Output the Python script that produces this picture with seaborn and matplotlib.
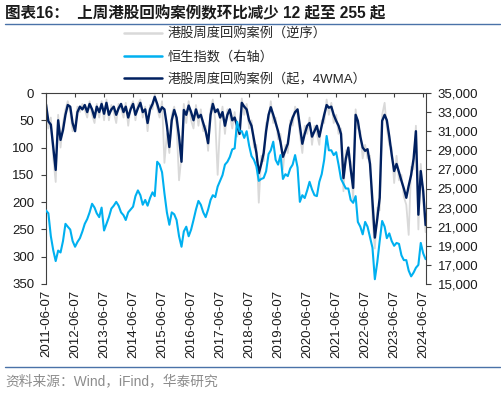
import numpy as np
import pandas as pd
import matplotlib
matplotlib.use("Agg")
import matplotlib.pyplot as plt
import seaborn as sns
from matplotlib.lines import Line2D
from matplotlib.ticker import FuncFormatter

# ---------------- data (monthly readings, 2011-06 .. 2024-07) ----------------
start_month = "2011-06-01"
n_months = 158

hsi = [
    22700, 22400, 20000, 18500, 17400, 18500, 18300,
    19500, 21300, 21000, 20700, 19500, 18900, 19400, 19800, 20500, 21300, 21800, 22500,
    23400, 23000, 22400, 22000, 23000, 20600, 21300, 22000, 22900, 23200, 23600, 23200,
    22500, 22200, 21700, 22500, 22800, 23100, 24200, 24800, 24300, 23300, 23800, 23200,
    24000, 24600, 24200, 27800, 27500, 26700, 24500, 22500, 21200, 22500, 22300, 21700,
    20000, 18900, 20500, 21000, 20000, 20700, 21700, 22800, 23700, 23300, 22500, 22000,
    22800, 23800, 24300, 24100, 25200, 25800, 26400, 27500, 27800, 28300, 29100, 29200,
    32000, 31000, 31000, 30300, 31000, 29500, 28400, 28000, 27300, 25800, 26000, 26100,
    26800, 28600, 29000, 29900, 28000, 27500, 28500, 26000, 26500, 26300, 27100, 27500,
    28500, 27200, 23600, 24300, 24000, 24800, 25700, 24900, 24300, 24200, 25700, 26500,
    28000, 30500, 29000, 29000, 28500, 28800, 27500, 26000, 25500, 25000, 25000, 23800,
    23500, 24200, 21500, 21000, 20200, 21500, 21000, 19900, 18800, 15500, 17300, 19500,
    21600, 21000, 19800, 20300, 19500, 19000, 19300, 19200, 18000, 17500, 17500, 16400,
    15800, 16200, 16700, 17000, 19300, 18200, 17600,
]

buyback_4wma = [
    21, 52, 58, 100, 141, 50, 86, 68, 40, 22, 25, 55,
    70, 35, 25, 30, 22, 35, 20, 30, 45, 25, 35, 20,
    38, 18, 40, 30, 25, 40, 28, 20, 35, 25, 45, 30,
    20, 40, 28, 18, 35, 30, 55, 30, 20, 7, 20, 35,
    26, 30, 60, 99, 50, 31, 45, 80, 126, 31, 40, 23,
    35, 50, 30, 45, 40, 55, 70, 92, 40, 20, 35, 30,
    45, 35, 60, 40, 30, 50, 45, 60, 75, 18, 25, 30,
    50, 60, 85, 110, 147, 130, 110, 70, 40, 26, 40, 55,
    70, 90, 117, 105, 93, 60, 45, 35, 30, 60, 93, 75,
    60, 55, 80, 70, 60, 80, 60, 40, 22, 27, 25, 40,
    51, 60, 75, 156, 120, 100, 140, 174, 40, 51, 80, 100,
    106, 103, 130, 200, 265, 230, 192, 51, 40, 50, 80, 113,
    143, 130, 145, 161, 175, 192, 170, 150, 120, 70, 223, 143,
    180, 242,
]

buyback_raw = [
    15, 65, 45, 120, 163, 40, 100, 55, 30, 15, 35, 70,
    60, 25, 35, 20, 30, 45, 15, 40, 55, 20, 45, 15,
    50, 12, 50, 22, 35, 55, 20, 28, 45, 18, 60, 25,
    15, 50, 20, 12, 45, 25, 70, 22, 30, 3, 28, 45,
    15, 128, 75, 110, 40, 25, 60, 160, 115, 20, 55, 15,
    50, 65, 22, 60, 30, 70, 60, 106, 30, 12, 50, 150,
    55, 25, 75, 30, 40, 65, 35, 80, 60, 10, 40, 20,
    65, 50, 100, 95, 201, 115, 125, 55, 50, 15, 55, 45,
    85, 75, 140, 95, 110, 50, 60, 25, 40, 75, 110, 60,
    75, 45, 95, 60, 75, 95, 50, 55, 12, 40, 18, 55,
    40, 75, 65, 180, 105, 120, 125, 195, 30, 65, 70, 120,
    95, 120, 115, 230, 285, 210, 215, 40, 18, 65, 95, 100,
    165, 115, 160, 150, 190, 205, 260, 135, 140, 60, 250, 130,
    200, 255,
]

tick_years = list(range(2011, 2025))
legend_labels = ["港股周度回购案例（逆序）", "恒生指数（右轴）", "港股周度回购案例（起，4WMA）"]
title_text = "图表16：  上周港股回购案例数环比减少 12 起至 255 起"
source_text = "资料来源：Wind，iFind，华泰研究"

# ---------------- build frame ----------------
dates = pd.date_range(start_month, periods=n_months, freq="MS") + pd.Timedelta(days=6)
df = pd.DataFrame({"date": dates, "raw": buyback_raw, "ma4": buyback_4wma, "hsi": hsi})

sns.set_theme(style="white")
plt.rcParams["font.family"] = ["Liberation Sans", "Noto Sans CJK SC", "DejaVu Sans"]

c_gray = "#d9d9d9"
c_blue = "#00b0f0"
c_navy = "#002060"
c_axis = "#404040"
c_text = "#1a1a1a"

fig = plt.figure(figsize=(5.02, 3.94), dpi=100)
ax = fig.add_axes([46 / 502, 1 - 284 / 394, (426 - 46) / 502, 191 / 394])
ax2 = ax.twinx()

sns.lineplot(data=df, x="date", y="raw", color=c_gray, lw=1.3, ax=ax)
sns.lineplot(data=df, x="date", y="ma4", color=c_navy, lw=1.7, ax=ax)
sns.lineplot(data=df, x="date", y="hsi", color=c_blue, lw=1.5, ax=ax2)

ax.set_ylim(350, 0)
ax.set_yticks(range(0, 351, 50))
ax2.set_ylim(15000, 35000)
ax2.set_yticks(range(15000, 35001, 2000))
ax2.yaxis.set_major_formatter(FuncFormatter(lambda v, p: f"{int(v):,}"))

ticks = pd.to_datetime([f"{y}-06-07" for y in tick_years])
ax.set_xticks(ticks)
ax.set_xticklabels([t.strftime("%Y-%m-%d") for t in ticks])
ax.set_xlim(pd.Timestamp("2011-06-07"), pd.Timestamp("2024-07-12"))

for a in (ax, ax2):
    a.set_xlabel("")
    a.set_ylabel("")
    for s in a.spines.values():
        s.set_visible(False)
        s.set_color(c_axis)
        s.set_linewidth(0.8)
ax.spines["left"].set_visible(True)
ax.spines["top"].set_visible(True)
ax2.spines["right"].set_visible(True)

ax.tick_params(axis="x", top=True, bottom=False, direction="in", length=3, width=0.8,
               color=c_axis, labelbottom=True, labeltop=False, labelrotation=90,
               labelsize=9.5, labelcolor=c_text, pad=4)
ax.tick_params(axis="y", left=True, direction="out", length=3.5, width=0.8, color=c_axis,
               labelsize=9.5, labelcolor=c_text, pad=5)
ax2.tick_params(axis="y", right=True, direction="out", length=3.5, width=0.8, color=c_axis,
                labelsize=9.5, labelcolor=c_text, pad=5)

# legend
handles = [Line2D([], [], color=c_gray, lw=1.8),
           Line2D([], [], color=c_blue, lw=1.8),
           Line2D([], [], color=c_navy, lw=1.8)]
fig.legend(handles, legend_labels, loc="upper left", bbox_to_anchor=(124 / 502, 1 - 28 / 394),
           frameon=False, fontsize=9.5, handlelength=2.9, handletextpad=0.4,
           labelspacing=0.72, borderpad=0, borderaxespad=0, labelcolor="#262626")

# title, rules, source
fig.text(5 / 502, 1 - 14 / 394, title_text, fontsize=11.2, fontweight="bold",
         va="center", ha="left", color=c_text)
fig.add_artist(Line2D([5 / 502, 500 / 502], [1 - 24 / 394] * 2, color="#4a72a8", lw=1.0))
fig.add_artist(Line2D([5 / 502, 500 / 502], [1 - 367 / 394] * 2, color="#4a72a8", lw=1.0))
fig.text(5 / 502, 1 - 381 / 394, source_text, fontsize=9.9, va="center", ha="left",
         color="#8c8c8c")

fig.savefig("out.png", dpi=100)
